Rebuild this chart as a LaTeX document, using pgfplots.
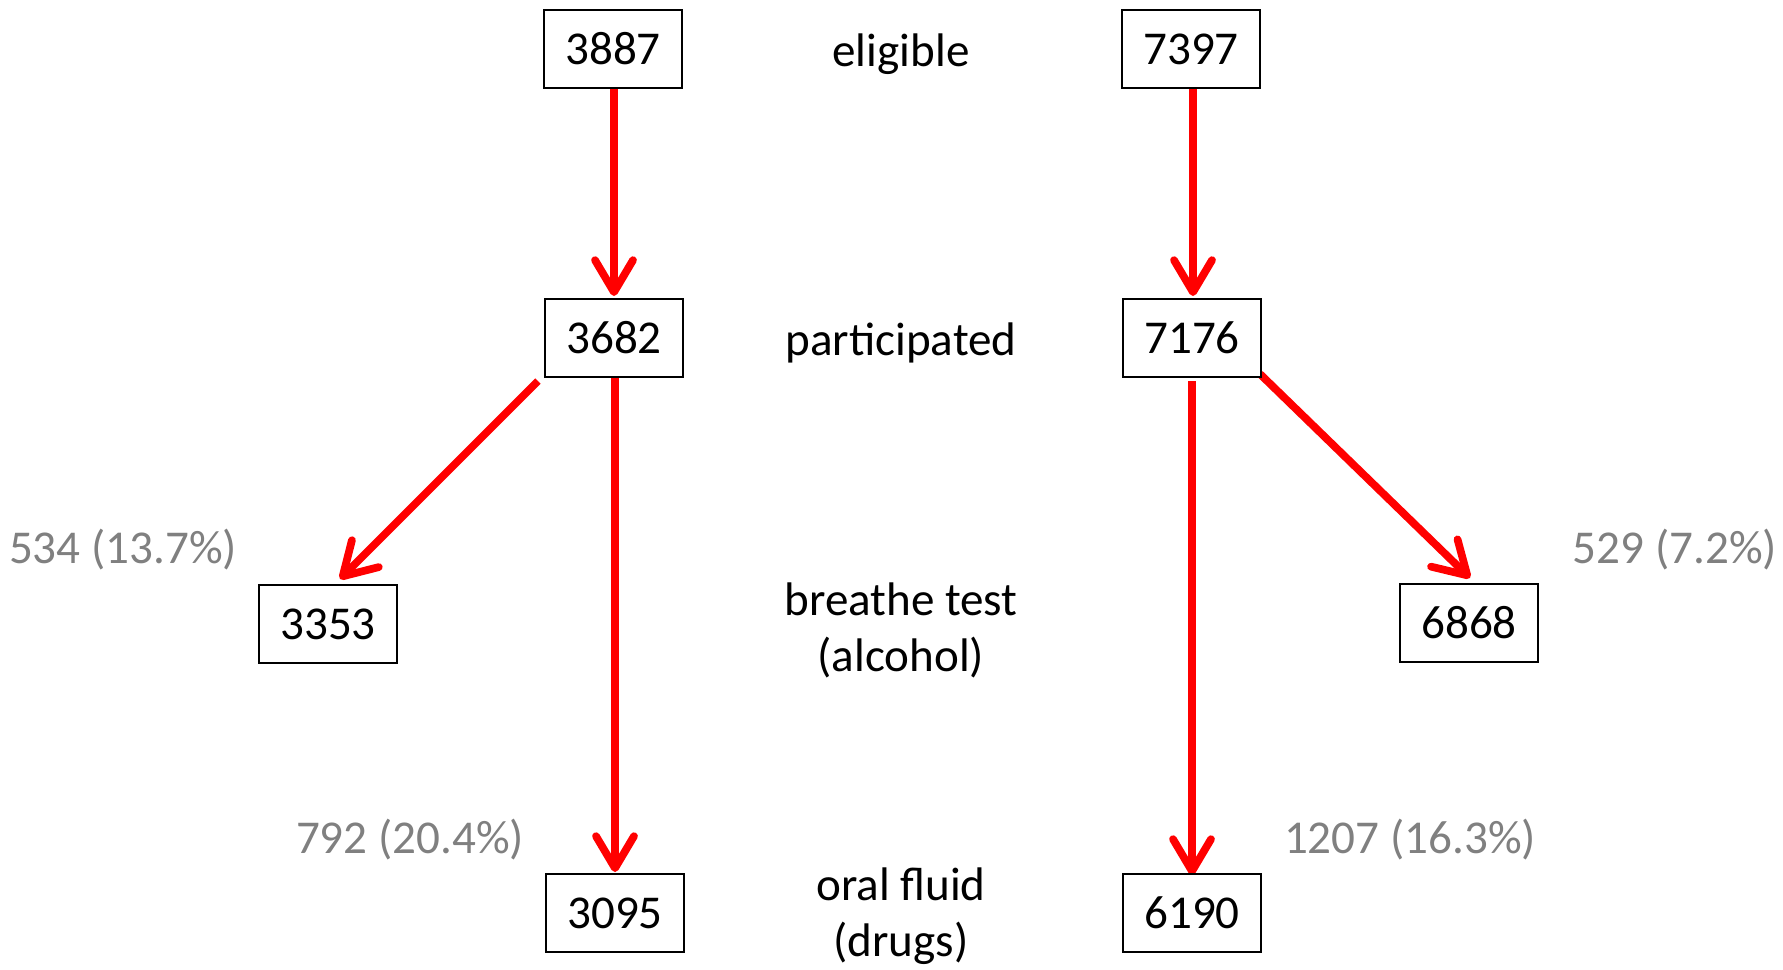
\documentclass[border=0pt]{standalone}
\usepackage{pgfplots}
\pgfplotsset{compat=1.18}
\usepackage{fontspec}
\setmainfont{Carlito}
\usetikzlibrary{arrows.meta}
\definecolor{arrred}{RGB}{255,0,0}
\definecolor{lblgray}{RGB}{128,128,128}
\begin{document}
\begin{tikzpicture}
\begin{axis}[
  scale only axis, width=17.83cm, height=9.69cm,
  xmin=0, xmax=1783, ymin=0, ymax=969, y dir=reverse,
  hide axis, clip=false,
]
% frame for bounding box
\addplot[draw=none, mark=none] coordinates {(0,0) (1783,969)};
% arrows
\pgfplotsset{flowarrow/.style={arrred, line width=2.2pt, mark=none,
  -{Straight Barb[length=3.2mm,width=3.8mm,round]}}}
\addplot[flowarrow] coordinates {(614,88) (614,296)};
\addplot[flowarrow] coordinates {(1193,88) (1193,296)};
\addplot[flowarrow] coordinates {(538,381) (340,579)};
\addplot[flowarrow] coordinates {(1260,374) (1470,578)};
\addplot[flowarrow] coordinates {(615,377) (615,872)};
\addplot[flowarrow] coordinates {(1192,381) (1192,875)};
% boxes
\addplot[only marks, mark=none, nodes near coords, point meta=explicit symbolic,
  nodes near coords style={anchor=center, draw=black, line width=0.6pt, fill=white,
    minimum width=13.8mm, minimum height=7.8mm, inner sep=0pt, font=\fontsize{13.4}{16}\selectfont}]
  coordinates {
  (613,49) [3887]
  (1191,49) [7397]
  (614,338) [3682]
  (1192,338) [7176]
  (328,624) [3353]
  (1469,623) [6868]
  (615,913) [3095]
  (1192,913) [6190]
};
% stage labels
\addplot[only marks, mark=none, nodes near coords, point meta=explicit symbolic,
  nodes near coords style={anchor=base, inner sep=0pt, font=\fontsize{13.4}{16}\selectfont}]
  coordinates {
  (901,66) [eligible]
  (901,355) [participated]
  (901,615) [breathe test]
  (901,671) [(alcohol)]
  (901,900) [oral fluid]
  (901,956) [(drugs)]
};
% excluded labels
\addplot[only marks, mark=none, nodes near coords, point meta=explicit symbolic,
  nodes near coords style={anchor=base, inner sep=0pt, text=lblgray, font=\fontsize{13.4}{16}\selectfont}]
  coordinates {
  (123,563) [534 (13.7\%)]
  (1675,563) [529 (7.2\%)]
  (410,853) [792 (20.4\%)]
  (1410,853) [1207 (16.3\%)]
};
\end{axis}
\end{tikzpicture}
\end{document}
